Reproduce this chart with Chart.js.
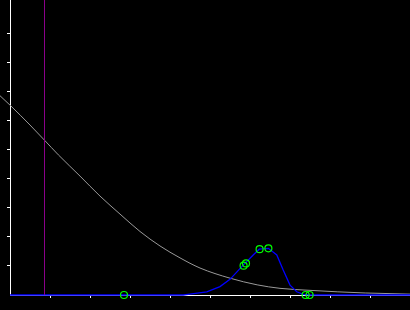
<!DOCTYPE html>
<html>
<head>
<meta charset="utf-8">
<script src="https://cdn.jsdelivr.net/npm/chart.js@4/dist/chart.umd.min.js"></script>
<style>
html,body{margin:0;padding:0;background:#000;}
#c{display:block;}
</style>
</head>
<body>
<canvas id="c" width="410" height="310"></canvas>
<script>
// ---- data ----
const grayX = [-0.25, 0.02, 0.5, 0.86, 1.21, 1.75, 2.25, 2.75, 3.25, 3.75, 4.25, 4.75, 5.5, 6.18, 6.75, 7.5, 8.18, 8.88, 10];
const grayY = [6.87, 6.52, 5.86, 5.34, 4.83, 4.10, 3.41, 2.79, 2.19, 1.69, 1.28, 0.93, 0.58, 0.35, 0.23, 0.16, 0.11, 0.07, 0.03];

const blueX = [0, 4.33, 4.5, 4.92, 5.25, 5.5, 5.83, 6.08, 6.23, 6.46, 6.67, 6.83, 7.0, 7.17, 7.33, 7.5, 10];
const blueY = [0, 0, 0.03, 0.11, 0.29, 0.54, 1.03, 1.38, 1.58, 1.61, 1.38, 0.86, 0.34, 0.11, 0.02, 0, 0];

const markX = [2.85, 5.84, 5.9, 6.24, 6.46, 7.39, 7.49];
const markY = [0, 1.01, 1.09, 1.58, 1.61, 0, 0];

const vLineX = 0.8625;
const xRange = [0, 10];
const yRange = [0, 10.17];
const tickStep = 1;

const pts = (xs, ys) => xs.map((x, i) => ({x: x, y: ys[i]}));

const filterTicks = (scale) => {
  scale.ticks = scale.ticks.filter(t => t.value > 0 && t.value < 10);
};

new Chart(document.getElementById('c'), {
  type: 'scatter',
  data: {
    datasets: [
      {
        data: pts(markX, markY),
        showLine: false,
        pointStyle: 'circle',
        pointRadius: 3.5,
        pointBorderWidth: 1.2,
        pointBorderColor: '#00ff00',
        pointBackgroundColor: 'rgba(0,0,0,0)',
        clip: false
      },
      {
        data: pts([vLineX, vLineX], [0, yRange[1]]),
        showLine: true,
        borderColor: '#8a008a',
        borderWidth: 1,
        pointRadius: 0,
        clip: false
      },
      {
        data: pts(blueX, blueY),
        showLine: true,
        borderColor: '#0000ff',
        borderWidth: 1.3,
        pointRadius: 0,
        tension: 0,
        clip: false
      },
      {
        data: pts(grayX, grayY),
        showLine: true,
        borderColor: '#999999',
        borderWidth: 1,
        pointRadius: 0,
        cubicInterpolationMode: 'monotone',
        clip: false
      }
    ]
  },
  options: {
    responsive: false,
    animation: false,
    devicePixelRatio: 1,
    layout: {autoPadding: false, padding: {left: 7, bottom: 12, top: 0, right: 0}},
    plugins: {legend: {display: false}, tooltip: {enabled: false}},
    scales: {
      x: {
        type: 'linear',
        position: 'bottom',
        min: xRange[0], max: xRange[1],
        ticks: {display: false, stepSize: tickStep, includeBounds: false},
        grid: {drawOnChartArea: false, drawTicks: true, tickLength: 3, color: '#ffffff', tickWidth: 1},
        border: {display: true, color: '#ffffff', width: 1},
        afterBuildTicks: filterTicks
      },
      y: {
        type: 'linear',
        position: 'left',
        min: yRange[0], max: yRange[1],
        ticks: {display: false, stepSize: tickStep, includeBounds: false},
        grid: {drawOnChartArea: false, drawTicks: true, tickLength: 3, color: '#ffffff', tickWidth: 1},
        border: {display: true, color: '#ffffff', width: 1},
        afterBuildTicks: filterTicks
      }
    }
  }
});
</script>
</body>
</html>
